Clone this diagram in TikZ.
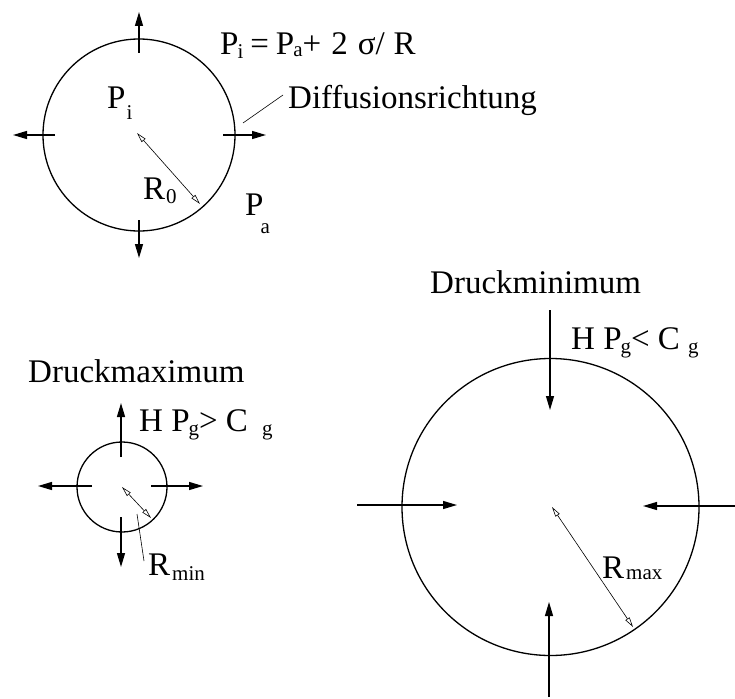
\documentclass[tikz,border=0pt]{standalone}
\usepackage{fontspec}
\setmainfont{Liberation Serif}
\usetikzlibrary{arrows.meta}
\newcommand\sbs[2][-4pt]{\raisebox{#1}{\fontsize{21}{21}\selectfont #2}}
\begin{document}
\begin{tikzpicture}[x=1pt,y=-1pt,
  ring/.style={draw,circle,line width=1.3pt,inner sep=0pt},
  pusharrow/.style={line width=1.3pt,-{Triangle[length=14pt,width=8pt]}},
  radarrow/.style={line width=0.6pt,{Triangle[open,length=10pt,width=5pt]}-{Triangle[open,length=10pt,width=5pt]}},
  lead/.style={line width=0.6pt},
  lab/.style={anchor=base west,inner sep=0pt,font=\fontsize{33}{40}\selectfont}]
\useasboundingbox (0,0) rectangle (735,698);
% circle 1
\node[ring,minimum size=192pt] (c1) at (139,135) {};
\coordinate (a1t0) at (139,53);  \coordinate (a1t1) at (139,12);
\coordinate (a1l0) at (55,135);  \coordinate (a1l1) at (13,135);
\coordinate (a1r0) at (223,135); \coordinate (a1r1) at (266,135);
\coordinate (a1b0) at (139,220); \coordinate (a1b1) at (139,258);
\draw[pusharrow] (a1t0) -- (a1t1);
\draw[pusharrow] (a1l0) -- (a1l1);
\draw[pusharrow] (a1r0) -- (a1r1);
\draw[pusharrow] (a1b0) -- (a1b1);
\coordinate (r1s) at (137,133); \coordinate (r1e) at (200,204);
\draw[radarrow] (r1s) -- (r1e);
\node[lab] (form) at (220,55) {P\kern-1pt\sbs{i}\hspace{7pt}=\hspace{7pt}P\kern-1pt\sbs[-2pt]{a}+\hspace{10pt}2\hspace{10pt}σ/\hspace{9pt}R};
\node[lab] (diff) at (288,109) {Diffusionsrichtung};
\coordinate (d0) at (243,123); \coordinate (d1) at (283,95);
\draw[lead] (d0) -- (d1);
\node[lab] (pi) at (107,109) {P\kern1pt\sbs[-10pt]{i}};
\node[lab] (r0) at (143,199) {R\kern1pt\sbs[-4pt]{0}};
\node[lab] (pa) at (245,215) {P\kern-3pt\sbs[-18pt]{a}};
% circle 2 (small)
\node[ring,minimum size=90pt] (c2) at (122,487) {};
\coordinate (a2t0) at (121,457); \coordinate (a2t1) at (121,403);
\coordinate (a2l0) at (92,486);  \coordinate (a2l1) at (38,486);
\coordinate (a2r0) at (151,486); \coordinate (a2r1) at (203,486);
\coordinate (a2b0) at (121,517); \coordinate (a2b1) at (121,567);
\draw[pusharrow] (a2t0) -- (a2t1);
\draw[pusharrow] (a2l0) -- (a2l1);
\draw[pusharrow] (a2r0) -- (a2r1);
\draw[pusharrow] (a2b0) -- (a2b1);
\coordinate (r2s) at (122,487); \coordinate (r2e) at (151,518);
\draw[radarrow] (r2s) -- (r2e);
\coordinate (m0) at (137,514); \coordinate (m1) at (144,561);
\draw[lead] (m0) -- (m1);
\node[lab] (dmax) at (28,382) {Druckmaximum};
\node[lab] (hgt) at (139,431) {H P\kern-1pt\sbs{g}> C\hspace{14pt}\sbs{g}};
\node[lab] (rmin) at (148,575) {R\hspace{2pt}\sbs[-5pt]{min}};
% circle 3 (big)
\node[ring,minimum size=297pt] (c3) at (550.5,507) {};
\coordinate (a3t0) at (550,310); \coordinate (a3t1) at (550,410);
\coordinate (a3l0) at (357,505); \coordinate (a3l1) at (457,505);
\coordinate (a3r0) at (735,506); \coordinate (a3r1) at (643,506);
\coordinate (a3b0) at (549,697); \coordinate (a3b1) at (549,602);
\draw[pusharrow] (a3t0) -- (a3t1);
\draw[pusharrow] (a3l0) -- (a3l1);
\draw[pusharrow] (a3r0) -- (a3r1);
\draw[pusharrow] (a3b0) -- (a3b1);
\coordinate (r3s) at (552,507); \coordinate (r3e) at (633,627);
\draw[radarrow] (r3s) -- (r3e);
\node[lab] (dmin) at (430,293) {Druckminimum};
\node[lab] (hlt) at (571,349) {H P\kern-1pt\sbs{g}< C\hspace{8pt}\sbs{g}};
\node[lab] (rmax) at (602,578) {R\hspace{2pt}\sbs[-1pt]{max}};
\end{tikzpicture}
\end{document}
